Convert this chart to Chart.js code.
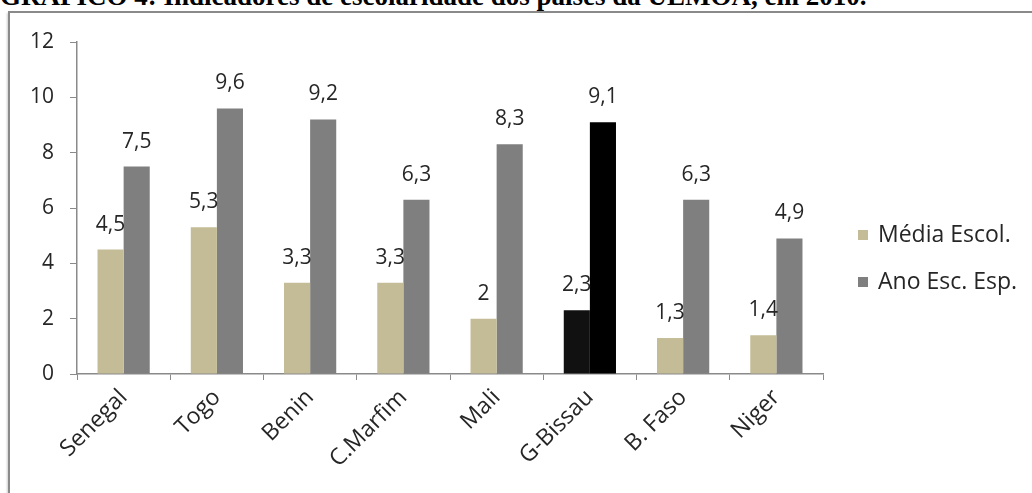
<!DOCTYPE html>
<html>
<head>
<meta charset="utf-8">
<script src="https://cdn.jsdelivr.net/npm/chart.js@4.4.1/dist/chart.umd.min.js"></script>
<style>
  html, body { margin: 0; padding: 0; background: #fff; overflow: hidden; }
  body { width: 1032px; height: 493px; position: relative; }
  #titulo {
    position: absolute; left: 0; top: -17px; white-space: nowrap;
    font-family: "Liberation Serif", "Times New Roman", serif;
    font-weight: bold; font-size: 27px; color: #000; line-height: 27px;
  }
  #moldura {
    position: absolute; left: 8px; top: 11px; width: 1100px; height: 600px;
    border-left: 2px solid #8a8a8a; border-top: 2px solid #8a8a8a;
    box-shadow: -1px 2px 2px rgba(0,0,0,0.2);
    background: #fff;
  }
  #grafico { position: absolute; left: 0; top: 0; }
</style>
</head>
<body>
<div id="titulo">GRÁFICO 4: Indicadores de escolaridade dos países da UEMOA, em 2010.</div>
<div id="moldura"></div>
<canvas id="grafico" width="1032" height="493"></canvas>
<script>
// Países da UEMOA e indicadores de escolaridade (2010)
const paises = ["Senegal", "Togo", "Benin", "C.Marfim", "Mali", "G-Bissau", "B. Faso", "Niger"];
const mediaEscol = [4.5, 5.3, 3.3, 3.3, 2.0, 2.3, 1.3, 1.4];
const anoEscEsp = [7.5, 9.6, 9.2, 6.3, 8.3, 9.1, 6.3, 4.9];
const yTicks = [0, 2, 4, 6, 8, 10, 12];
const nomesSeries = ["Média Escol.", "Ano Esc. Esp."];

const corMedia = "#c4bc96";
const corAno = "#7f7f7f";
const destaque = "G-Bissau";
const fonte = "'Open Sans', Lato, sans-serif";
const corTexto = "#262626";

const coresMedia = paises.map(p => p === destaque ? "#111111" : corMedia);
const coresAno = paises.map(p => p === destaque ? "#000000" : corAno);

const fmt = v => String(v).replace(".", ",");

// Rótulos de valor acima de cada barra
const rotulos = {
  id: "rotulos",
  afterDatasetsDraw(chart) {
    const ctx = chart.ctx;
    ctx.save();
    ctx.font = "21px " + fonte;
    ctx.fillStyle = corTexto;
    ctx.textAlign = "center";
    ctx.textBaseline = "alphabetic";
    chart.data.datasets.forEach((ds, i) => {
      chart.getDatasetMeta(i).data.forEach((bar, j) => {
        ctx.fillText(fmt(ds.data[j]), bar.x, bar.y - 19);
      });
    });
    ctx.restore();
  }
};

// Legenda lateral desenhada a partir das séries
const legendaLateral = {
  id: "legendaLateral",
  afterDraw(chart) {
    const ctx = chart.ctx;
    const x = chart.chartArea.right + 35;
    const y0 = 235, passo = 47;
    ctx.save();
    ctx.font = "23px " + fonte;
    ctx.textBaseline = "middle";
    chart.data.datasets.forEach((ds, i) => {
      const y = y0 + i * passo;
      ctx.fillStyle = ds.legendColor;
      ctx.fillRect(x, y - 5, 10, 10);
      ctx.fillStyle = corTexto;
      ctx.fillText(ds.label, x + 20, y);
    });
    ctx.restore();
  }
};

new Chart(document.getElementById("grafico"), {
  type: "bar",
  data: {
    labels: paises,
    datasets: [
      { label: nomesSeries[0], data: mediaEscol, backgroundColor: coresMedia, legendColor: corMedia },
      { label: nomesSeries[1], data: anoEscEsp, backgroundColor: coresAno, legendColor: corAno }
    ]
  },
  options: {
    responsive: false,
    animation: false,
    events: [],
    layout: { padding: { left: 10, top: 42, right: 209, bottom: 0 } },
    datasets: { bar: { categoryPercentage: 0.56, barPercentage: 1.0 } },
    plugins: { legend: { display: false }, tooltip: { enabled: false } },
    scales: {
      x: {
        grid: { offset: true, drawOnChartArea: false, drawTicks: true, tickLength: 6, color: "#8a8a8a" },
        border: { color: "#8a8a8a", width: 1.5 },
        ticks: { color: corTexto, font: { family: fonte, size: 23 }, maxRotation: 45, minRotation: 45, padding: 4 },
        afterFit(s) { s.height = 119; }
      },
      y: {
        min: 0, max: 12,
        afterBuildTicks(s) { s.ticks = yTicks.map(v => ({ value: v })); },
        grid: { drawOnChartArea: false, drawTicks: true, tickLength: 7, color: "#8a8a8a" },
        border: { color: "#8a8a8a", width: 1.5 },
        ticks: { color: corTexto, font: { family: fonte, size: 21 }, padding: 16 },
        afterFit(s) { s.width = 67; }
      }
    }
  },
  plugins: [rotulos, legendaLateral]
});
</script>
</body>
</html>
